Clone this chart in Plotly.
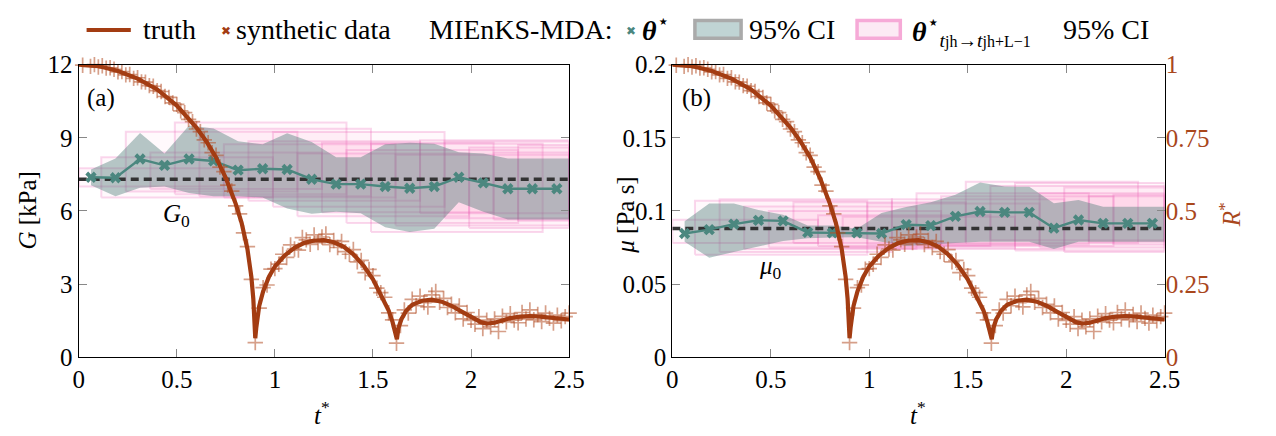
import plotly.graph_objects as go

W, H = 1276, 436
FONT = "Liberation Serif, DejaVu Serif, serif"
BROWN = "#A33C12"
BROWN_TXT = "#A9471C"
TEAL = "#4B877F"

# ---- bubble radius: truth curve R*(t*) ----
t_truth = [0.0, 0.1, 0.2, 0.3, 0.4, 0.5, 0.6, 0.65, 0.7, 0.75, 0.8, 0.83, 0.86, 0.88,
           0.89, 0.9, 0.905, 0.91, 0.92, 0.94, 0.97, 1.0, 1.05, 1.1, 1.15, 1.2, 1.25,
           1.3, 1.35, 1.4, 1.45, 1.5, 1.55, 1.58, 1.6, 1.615, 1.622, 1.63, 1.645, 1.67,
           1.7, 1.75, 1.8, 1.85, 1.9, 1.95, 2.0, 2.05, 2.08, 2.12, 2.16, 2.2, 2.25, 2.3,
           2.35, 2.4, 2.45, 2.5]
r_truth = [1.0, 0.995, 0.978, 0.952, 0.915, 0.860, 0.785, 0.738, 0.683, 0.612, 0.525,
           0.46, 0.37, 0.275, 0.20, 0.065, 0.10, 0.135, 0.175, 0.225, 0.275, 0.31, 0.348,
           0.374, 0.391, 0.399, 0.400, 0.393, 0.378, 0.352, 0.315, 0.266, 0.204, 0.16,
           0.12, 0.075, 0.062, 0.10, 0.13, 0.16, 0.179, 0.193, 0.197, 0.19, 0.176, 0.157,
           0.137, 0.12, 0.115, 0.118, 0.126, 0.134, 0.139, 0.141, 0.139, 0.135, 0.131,
           0.129]

# ---- noisy synthetic observations of R*(t*) ----
t_data = [0.00, 0.02, 0.04, 0.06, 0.08, 0.10, 0.12, 0.14, 0.16, 0.18, 0.20, 0.22, 0.24,
          0.26, 0.28, 0.30, 0.32, 0.34, 0.36, 0.38, 0.40, 0.42, 0.44, 0.46, 0.48, 0.50,
          0.52, 0.54, 0.56, 0.58, 0.60, 0.62, 0.64, 0.66, 0.68, 0.70, 0.72, 0.74, 0.76,
          0.78, 0.80, 0.82, 0.84, 0.86, 0.88, 0.90, 0.92, 0.94, 0.96, 0.98, 1.00, 1.02,
          1.04, 1.06, 1.08, 1.10, 1.12, 1.14, 1.16, 1.18, 1.20, 1.22, 1.24, 1.26, 1.28,
          1.30, 1.32, 1.34, 1.36, 1.38, 1.40, 1.42, 1.44, 1.46, 1.48, 1.50, 1.52, 1.54,
          1.56, 1.58, 1.60, 1.62, 1.64, 1.66, 1.68, 1.70, 1.72, 1.74, 1.76, 1.78, 1.80,
          1.82, 1.84, 1.86, 1.88, 1.90, 1.92, 1.94, 1.96, 1.98, 2.00, 2.02, 2.04, 2.06,
          2.08, 2.10, 2.12, 2.14, 2.16, 2.18, 2.20, 2.22, 2.24, 2.26, 2.28, 2.30, 2.32,
          2.34, 2.36, 2.38, 2.40, 2.42, 2.44, 2.46, 2.48, 2.50]
r_data = [1.003, 0.998, 1.001, 0.994, 1.000, 0.992, 0.996, 0.988, 0.989, 0.984, 0.975,
          0.976, 0.965, 0.966, 0.953, 0.955, 0.941, 0.940, 0.928, 0.926, 0.911, 0.908,
          0.891, 0.888, 0.869, 0.864, 0.842, 0.836, 0.813, 0.805, 0.780, 0.771, 0.743,
          0.733, 0.699, 0.690, 0.650, 0.634, 0.588, 0.568, 0.517, 0.490, 0.425, 0.378,
          0.266, 0.050, 0.168, 0.238, 0.247, 0.301, 0.303, 0.318, 0.352, 0.341, 0.384,
          0.370, 0.366, 0.409, 0.401, 0.386, 0.418, 0.392, 0.411, 0.421, 0.385, 0.399,
          0.375, 0.396, 0.361, 0.352, 0.368, 0.326, 0.331, 0.289, 0.300, 0.279, 0.236,
          0.221, 0.205, 0.152, 0.128, 0.048, 0.108, 0.162, 0.151, 0.198, 0.176, 0.209,
          0.187, 0.172, 0.213, 0.225, 0.188, 0.201, 0.170, 0.181, 0.152, 0.175, 0.131,
          0.153, 0.126, 0.113, 0.139, 0.098, 0.127, 0.104, 0.131, 0.088, 0.140, 0.121,
          0.149, 0.127, 0.118, 0.153, 0.131, 0.162, 0.128, 0.146, 0.122, 0.151, 0.133,
          0.117, 0.144, 0.125, 0.139, 0.151]

# ---- MIEnKS-MDA estimates ----
t_est = [0.0625, 0.1875, 0.3125, 0.4375, 0.5625, 0.6875, 0.8125, 0.9375, 1.0625,
         1.1875, 1.3125, 1.4375, 1.5625, 1.6875, 1.8125, 1.9375, 2.0625, 2.1875,
         2.3125, 2.4375]
G_est = [7.38, 7.36, 8.13, 7.87, 8.13, 8.05, 7.67, 7.73, 7.70, 7.30, 7.10, 7.10, 7.00,
         6.93, 7.00, 7.38, 7.15, 6.91, 6.91, 6.91]
G_hi = [7.70, 8.15, 9.20, 8.35, 9.50, 9.38, 8.86, 8.73, 9.18, 8.83, 8.20, 8.20, 8.73,
        8.80, 8.75, 8.41, 8.35, 8.15, 8.15, 8.15]
G_lo = [7.05, 6.60, 6.95, 7.00, 6.74, 6.60, 6.60, 6.55, 6.10, 5.88, 5.97, 5.90, 5.33,
        5.14, 5.27, 6.36, 5.97, 5.65, 5.65, 5.65]
mu_est = [0.0846, 0.0872, 0.0910, 0.0936, 0.0932, 0.0853, 0.0850, 0.0850, 0.0846,
          0.0906, 0.0900, 0.0963, 0.0996, 0.0990, 0.0990, 0.0882, 0.0938, 0.0915,
          0.0915, 0.0915]
mu_hi = [0.0930, 0.1050, 0.1050, 0.1006, 0.0974, 0.0900, 0.0900, 0.0878, 0.0985,
         0.1027, 0.1060, 0.1110, 0.1195, 0.1167, 0.1165, 0.1053, 0.1075, 0.1028,
         0.1028, 0.1028]
mu_lo = [0.0790, 0.0680, 0.0720, 0.0760, 0.0795, 0.0814, 0.0818, 0.0820, 0.0790,
         0.0760, 0.0770, 0.0780, 0.0790, 0.0790, 0.0790, 0.0739, 0.0790, 0.0790,
         0.0790, 0.0790]
t_end = 2.5

G0 = 7.3
mu0 = 0.088

# ---- windowed estimates over [t_jh, t_jh+L-1] ----
win_start = [0.0, 0.115, 0.24, 0.365, 0.49, 0.615, 0.74, 0.865, 0.99, 1.115, 1.24,
             1.365, 1.49, 1.615, 1.74, 1.865, 1.99, 2.115, 2.24]
win_end = [0.74, 0.99, 1.115, 1.24, 1.365, 1.49, 1.615, 1.74, 1.865, 1.99, 2.115,
           2.24, 2.365, 2.5, 2.5, 2.5, 2.5, 2.5, 2.5]
G_win_hi = [7.75, 8.20, 9.25, 8.40, 9.63, 9.37, 8.73, 8.86, 9.24, 8.35, 8.80, 8.50,
            8.75, 8.30, 8.90, 8.85, 8.60, 8.40, 8.70]
G_win_lo = [7.00, 6.55, 6.80, 6.90, 6.68, 6.60, 6.55, 6.42, 6.17, 5.78, 5.95, 5.50,
            5.14, 5.40, 5.90, 5.70, 5.30, 5.65, 5.60]
mu_win_hi = [0.094, 0.107, 0.108, 0.103, 0.100, 0.106, 0.097, 0.096, 0.105, 0.108,
             0.112, 0.110, 0.120, 0.117, 0.119, 0.112, 0.116, 0.110, 0.111]
mu_win_lo = [0.078, 0.070, 0.072, 0.074, 0.075, 0.078, 0.076, 0.075, 0.077, 0.074,
             0.077, 0.076, 0.078, 0.080, 0.073, 0.075, 0.072, 0.079, 0.077]

fig = go.Figure()

PINK_FILL = "rgba(245,110,190,0.045)"
PINK_LINE = "rgba(235,90,180,0.24)"
BAND_FILL = "rgba(70,120,115,0.40)"


def add_panel(xa, ya, yr, est, lo, hi, wlo, whi, ref):
    # windowed 95% CI boxes
    for s, e, a, b in zip(win_start, win_end, wlo, whi):
        fig.add_trace(go.Scatter(
            x=[s, e, e, s, s], y=[a, a, b, b, a], mode="lines", fill="toself",
            fillcolor=PINK_FILL, line=dict(color=PINK_LINE, width=2),
            xaxis=xa, yaxis=ya, showlegend=False, hoverinfo="skip"))
    # combined 95% CI band
    bx = t_est + [t_end]
    bhi = hi + [hi[-1]]
    blo = lo + [lo[-1]]
    fig.add_trace(go.Scatter(
        x=bx + bx[::-1], y=bhi + blo[::-1], mode="lines", fill="toself",
        fillcolor=BAND_FILL, line=dict(width=0), xaxis=xa, yaxis=ya,
        showlegend=False, hoverinfo="skip"))
    # reference value
    fig.add_trace(go.Scatter(
        x=[0, t_end], y=[ref, ref], mode="lines",
        line=dict(color="#333333", width=3.5, dash="8px,5px"),
        xaxis=xa, yaxis=ya, showlegend=False))
    # estimate
    fig.add_trace(go.Scatter(
        x=t_est, y=est, mode="lines+markers",
        line=dict(color=TEAL, width=2.4),
        marker=dict(symbol="x", size=10, color=TEAL),
        xaxis=xa, yaxis=ya, showlegend=False))
    # observations and truth on the radius axis
    fig.add_trace(go.Scatter(
        x=t_data, y=r_data, mode="markers", cliponaxis=False,
        marker=dict(symbol="cross-thin", size=11,
                    line=dict(color="rgba(180,80,40,0.55)", width=1.7)),
        xaxis=xa, yaxis=yr, showlegend=False))
    fig.add_trace(go.Scatter(
        x=t_truth, y=r_truth, mode="lines",
        line=dict(color=BROWN, width=4.2),
        xaxis=xa, yaxis=yr, showlegend=False))


add_panel("x", "y", "y4", G_est, G_lo, G_hi, G_win_lo, G_win_hi, G0)
add_panel("x2", "y2", "y3", mu_est, mu_lo, mu_hi, mu_win_lo, mu_win_hi, mu0)


def px(x):
    return x / W


def py(y):
    return 1 - y / H


ydom = [py(367), py(55)]
tickfont = dict(family=FONT, size=25, color="black")
xcommon = dict(range=[0, 2.5], tickvals=[0, 0.5, 1, 1.5, 2, 2.5],
               ticktext=["0", "0.5", "1", "1.5", "2", "2.5"],
               ticks="inside", ticklen=8, tickwidth=1, tickcolor="#888",
               showline=True, linecolor="black", linewidth=1.3, mirror="ticks",
               showgrid=False, zeroline=False, tickfont=tickfont)

fig.update_layout(
    width=W, height=H, margin=dict(l=0, r=0, t=0, b=0),
    paper_bgcolor="white", plot_bgcolor="white", showlegend=False,
    font=dict(family=FONT),
    xaxis=dict(domain=[px(74), px(573)], anchor="y", **xcommon),
    xaxis2=dict(domain=[px(678), px(1179)], anchor="y2", **xcommon),
    yaxis=dict(domain=ydom, anchor="x", range=[0, 12], tickvals=[0, 3, 6, 9, 12],
               ticks="inside", ticklen=8, tickcolor="#888", showline=True,
               linecolor="black", linewidth=1.3, mirror="ticks", showgrid=False,
               zeroline=False, tickfont=tickfont),
    yaxis4=dict(overlaying="y", anchor="x", range=[0, 1], visible=False),
    yaxis2=dict(domain=ydom, anchor="x2", range=[0, 0.2],
                tickvals=[0, 0.05, 0.1, 0.15, 0.2],
                ticktext=["0", "0.05", "0.1", "0.15", "0.2"],
                ticks="inside", ticklen=8, tickcolor="#888", showline=True,
                linecolor="black", linewidth=1.3, mirror=True, showgrid=False,
                zeroline=False, tickfont=tickfont),
    yaxis3=dict(overlaying="y2", anchor="x2", side="right", range=[0, 1],
                tickvals=[0, 0.25, 0.5, 0.75, 1],
                ticktext=["0", "0.25", "0.5", "0.75", "1"],
                ticks="inside", ticklen=8, tickcolor="#888", showline=False,
                showgrid=False, zeroline=False,
                tickfont=dict(family=FONT, size=25, color=BROWN_TXT)),
)

ann = []


def text(x, y, s, size=25, color="black", xanchor="center", angle=0):
    ann.append(dict(x=px(x), y=py(y), xref="paper", yref="paper", text=s,
                    showarrow=False, xanchor=xanchor, yanchor="middle",
                    textangle=angle, font=dict(family=FONT, size=size, color=color)))


text(97, 91, "(a)")
text(703, 91, "(b)")
text(173, 216, "<i>G</i><sub>0</sub>")
text(778, 271, "<i>μ</i><sub>0</sub>")
text(22, 211, "<i>G</i> [kPa]", angle=-90)
text(630, 216, "<i>μ</i> [Pa s]", angle=-90)
text(1245, 215, "<i>R</i><sup>*</sup>", color=BROWN_TXT, angle=-90)
text(322, 426, "<i>t</i><sup>*</sup>")
text(928, 426, "<i>t</i><sup>*</sup>")

# legend row
LEG = 28
text(137, 18, "truth", LEG, xanchor="left")
text(224, 19, "✖", 12, color=BROWN)
text(232, 18, "synthetic data", LEG, xanchor="left")
text(428, 18, "MIEnKS-MDA:", LEG, xanchor="left")
text(636, 19, "✖", 12, color=TEAL)
text(645, 16, "<b><i>θ</i></b><sup>⋆</sup>", LEG, xanchor="left")
text(754, 18, "95% CI", LEG, xanchor="left")
text(920, 20,
     "<b><i>θ</i></b><sup>⋆</sup><sub><i>t</i><span style='font-size:16px'>jh</span>"
     "→<i>t</i><span style='font-size:16px'>jh+L−1</span></sub>",
     LEG, xanchor="left")
text(1074, 18, "95% CI", LEG, xanchor="left")

shapes = [
    dict(type="line", xref="paper", yref="paper", x0=px(82), x1=px(127),
         y0=py(18), y1=py(18), line=dict(color=BROWN, width=4)),
    dict(type="rect", xref="paper", yref="paper", x0=px(701), x1=px(748),
         y0=py(27), y1=py(8), fillcolor="rgb(192,212,212)",
         line=dict(color="rgb(170,170,170)", width=3.5)),
    dict(type="rect", xref="paper", yref="paper", x0=px(866), x1=px(910),
         y0=py(27), y1=py(8), fillcolor="rgb(252,234,244)",
         line=dict(color="rgb(246,170,215)", width=3.5)),
]

fig.update_layout(annotations=ann, shapes=shapes)
fig.write_html("out.html")
